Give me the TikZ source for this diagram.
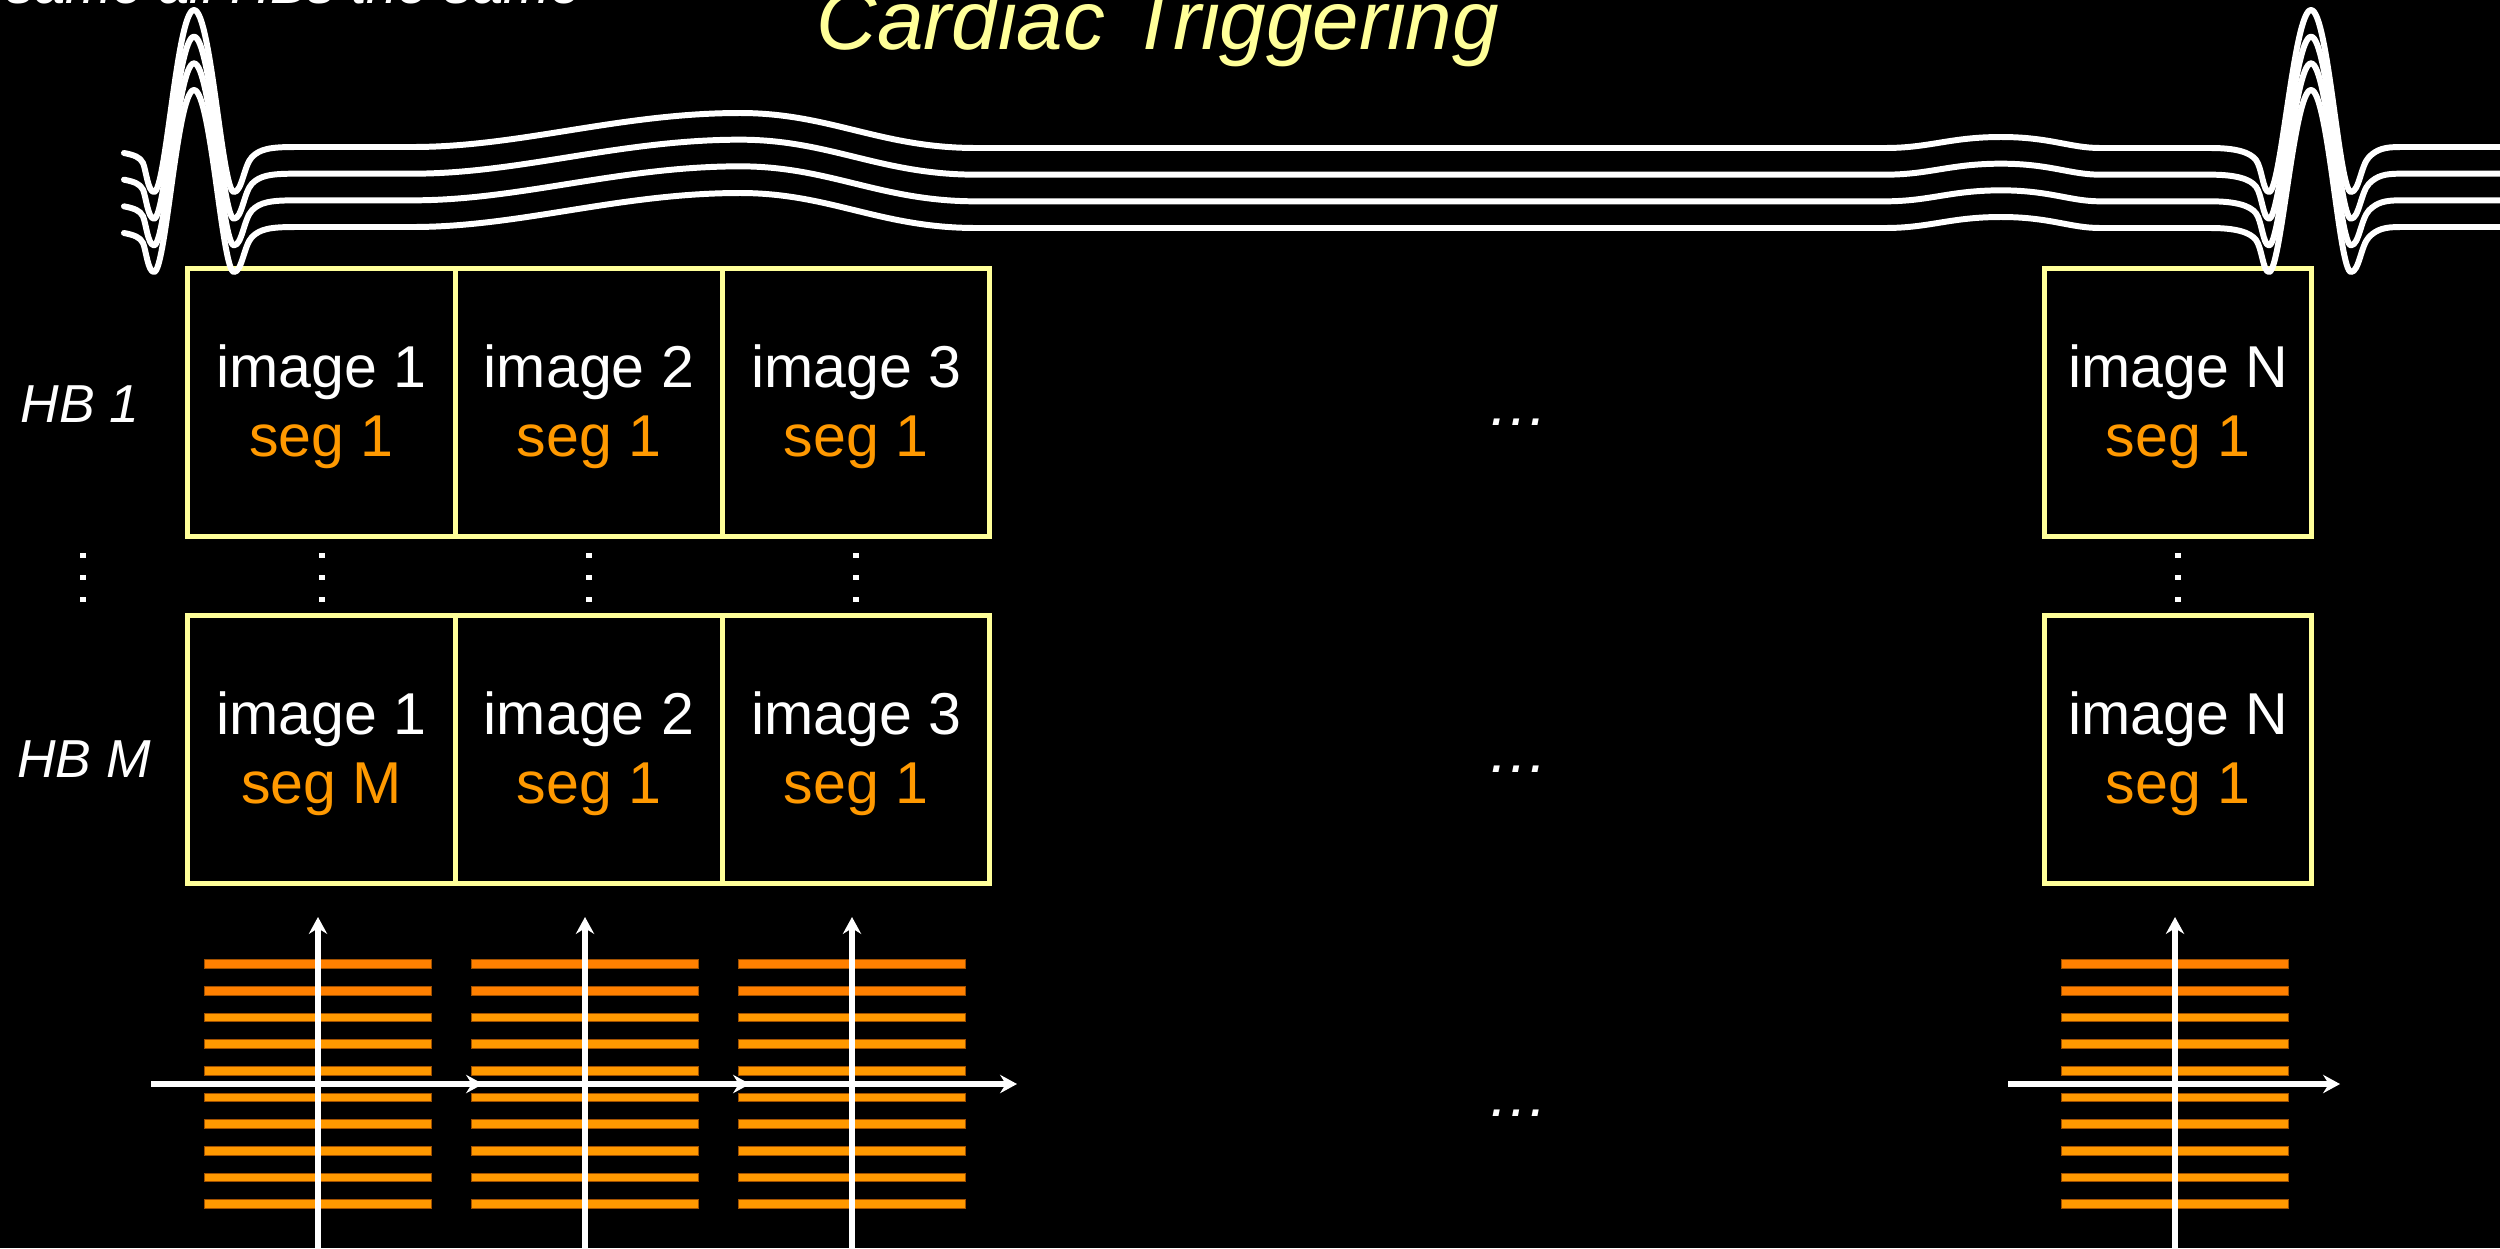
\documentclass[tikz,border=0pt]{standalone}
\usepackage{fontspec}
\setmainfont{Liberation Sans}
\usetikzlibrary{arrows.meta}
\definecolor{paleyellow}{RGB}{255,255,153}
\definecolor{segorange}{RGB}{255,153,0}
\definecolor{deeporange}{RGB}{255,128,0}
\definecolor{baredge}{RGB}{160,80,0}
\begin{document}
\begin{tikzpicture}[x=0.01cm, y=-0.01cm,
  cellbox/.style={draw=paleyellow, line width=1.42pt, minimum width=2.673cm,
    minimum height=2.673cm, inner sep=0pt, outer sep=0pt},
  imgtext/.style={text=white, anchor=base, inner sep=0pt,
    font=\fontsize{16.8}{20}\selectfont},
  segtext/.style={text=segorange, anchor=base, inner sep=0pt,
    font=\fontsize{16.8}{20}\selectfont},
  hbtext/.style={text=white, anchor=base, inner sep=0pt,
    font=\itshape\fontsize{15.2}{18}\selectfont},
  ellip/.style={text=white, anchor=base, inner sep=0pt,
    font=\itshape\fontsize{17.5}{20}\selectfont},
  ecg/.style={draw=white, line width=1.7pt, line join=round, line cap=round},
  axis/.style={draw=white, line width=1.5pt,
    -{Stealth[length=4.8pt, width=5.2pt, inset=1.6pt]}},
  kline/.style={draw=baredge, line width=0.2pt}
]
% canvas
\useasboundingbox (0,0) rectangle (2500,1248);
\fill[black] (0,0) rectangle (2500,1248);
\clip (0,0) rectangle (2500,1248);

% headings
\node[anchor=base east, inner sep=0pt, text=white,
  font=\itshape\fontsize{15.9}{19}\selectfont] (note) at (582,3.5)
  {same all HBs the same};
\node[anchor=base, inner sep=0pt, text=paleyellow,
  font=\itshape\fontsize{23.8}{28}\selectfont] (title) at (1158,49)
  {Cardiac Triggering};

% image cells, first and M-th heartbeat
\foreach \i/\cx in {1/321.65, 2/588.95, 3/856.25, N/2178} {
  \node[cellbox] (top\i) at (\cx,402.5) {};
  \node[cellbox] (bot\i) at (\cx,749.5) {};
  \node[imgtext] (topimg\i) at (\cx,387) {image \i};
  \node[imgtext] (botimg\i) at (\cx,734) {image \i};
  \node[segtext] (topseg\i) at (\cx,456) {seg 1};
}
\foreach \i/\cx/\s in {1/321.65/M, 2/588.95/1, 3/856.25/1, N/2178/1} {
  \node[segtext] (botseg\i) at (\cx,803) {seg \s};
}

% heartbeat labels
\node[hbtext] (hb1) at (80,422) {HB 1};
\node[hbtext] (hbm) at (84,777) {HB M};

% vertical ellipses between the rows
\foreach \x in {83, 321.65, 588.95, 856.25, 2178} {
  \foreach \y in {555.5, 577.5, 599} {
    \fill[white] (\x-3,\y-2.5) rectangle (\x+3,\y+2.5);
  }
}

% horizontal ellipses
\node[ellip] (gap1) at (1518,425) {…};
\node[ellip] (gap2) at (1518,772) {…};
\node[ellip] (gap3) at (1518,1116) {…};

% ECG traces, four stacked copies
\foreach \dy in {0, 26.67, 53.33, 80} {
  \draw[ecg, shift={(0,\dy)}]
    (124,153) .. controls (134,155) and (140,157) .. (143,163)
    .. controls (146,170) and (148,192) .. (154,192)
    .. controls (166,192) and (177,10) .. (194,10)
    .. controls (211,10) and (222,192) .. (234,192)
    .. controls (242,192) and (244,165) .. (252,157)
    .. controls (260,149) and (270,147) .. (295,147)
    -- (413,147)
    .. controls (520,147) and (620,113) .. (740,113)
    .. controls (830,113) and (880,148) .. (976,148)
    -- (1885,148)
    .. controls (1930,148) and (1950,137) .. (2001,137)
    .. controls (2050,137) and (2070,148) .. (2100,148)
    -- (2211,148)
    .. controls (2235,148) and (2250,152) .. (2256,160)
    .. controls (2262,168) and (2263,192) .. (2269,192)
    .. controls (2281,192) and (2294,10) .. (2311,10)
    .. controls (2328,10) and (2339,192) .. (2351,192)
    .. controls (2359,192) and (2361,165) .. (2369,157)
    .. controls (2377,149) and (2385,147) .. (2400,147)
    -- (2520,147);
}

% k-space segments: phase-encode lines
\foreach \kx in {318, 585, 852, 2175} {
  \foreach \k in {0,1} {
    \filldraw[kline, fill=deeporange]
      (\kx-113.5,{964+26.67*\k-4.3}) rectangle (\kx+113.5,{964+26.67*\k+4.3});
  }
  \foreach \k in {2,...,9} {
    \filldraw[kline, fill=segorange]
      (\kx-113.5,{964+26.67*\k-4.3}) rectangle (\kx+113.5,{964+26.67*\k+4.3});
  }
}

% k-space axes
\foreach \i/\kx in {1/318, 2/585, 3/852, N/2175} {
  \coordinate (kyb\i) at (\kx,1260);
  \coordinate (kyt\i) at (\kx,917);
  \draw[axis] (kyb\i) -- (kyt\i);
}
\foreach \i/\kx in {1/318, 2/585, 3/852, N/2175} {
  \coordinate (kxs\i) at (\kx-167,1084);
  \coordinate (kxe\i) at (\kx+165,1084);
  \draw[axis] (kxs\i) -- (kxe\i);
}
\end{tikzpicture}
\end{document}
